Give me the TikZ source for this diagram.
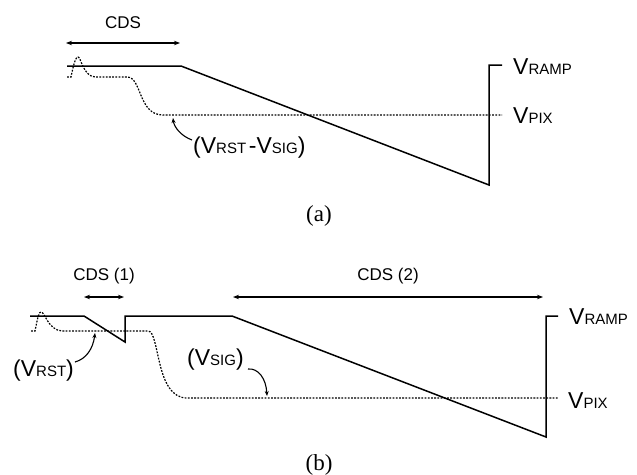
\documentclass[tikz,border=0pt]{standalone}
\usepackage{fontspec}
\setmainfont{Liberation Sans}
\newfontfamily\capfont{Liberation Serif}
\usetikzlibrary{arrows.meta}
\newcommand{\bigV}[1]{{\fontsize{23}{23}\selectfont V}{\fontsize{15}{15}\selectfont #1}}
\newcommand{\bigP}[1]{{\fontsize{23}{23}\selectfont #1}}
\begin{document}
\begin{tikzpicture}[x=1pt,y=-1pt,
  wave/.style={line width=1.5pt,line join=miter},
  pix/.style={line width=1.2pt,dash pattern=on 1.8pt off 1.4pt},
  span/.style={line width=1.5pt,{Stealth[length=6pt,width=4.5pt]}-{Stealth[length=6pt,width=4.5pt]}},
  pointer/.style={line width=1.1pt,-{Stealth[length=5pt,width=4pt]}},
  lbl/.style={inner sep=0pt,anchor=base west},
  cds/.style={inner sep=0pt,anchor=base,font=\fontsize{17}{17}\selectfont},
  captext/.style={inner sep=0pt,anchor=base,font=\capfont\fontsize{23}{23}\selectfont}]
\useasboundingbox (0,0) rectangle (637,474);
% ---------------- panel (a) ----------------
\coordinate (aL) at (66,43);
\coordinate (aR) at (180,43);
\draw[span] (aL) -- (aR);
\node[cds] (acds) at (123,28) {CDS};
\draw[wave] (67,66) -- (181,66) -- (489,185) -- (489,65) -- (502,65);
\draw[pix] (67,77) -- (71,77) .. controls (74,62) and (76,57) .. (78,57)
  .. controls (81,57) and (83,76) .. (95,77) -- (127,77)
  .. controls (142,77) and (138,115) .. (163,115) -- (502,115);
\node[lbl] (aramp) at (513,74) {\bigV{RAMP}};
\node[lbl] (apix) at (513,123) {\bigV{PIX}};
\node[lbl] (adiff) at (193,153) {\bigP{(}\bigV{RST} \bigP{-}\bigV{SIG}\bigP{)}};
\coordinate (adiffS) at (192,140);
\coordinate (adiffT) at (173,118);
\draw[pointer] (adiffS) .. controls (181,136) and (174,127) .. (adiffT);
\node[captext] (acap) at (319,221) {(a)};
% ---------------- panel (b) ----------------
\coordinate (b1L) at (84,297);
\coordinate (b1R) at (124,297);
\draw[span] (b1L) -- (b1R);
\node[cds] (bcds1) at (104,280) {CDS (1)};
\coordinate (b2L) at (233,297);
\coordinate (b2R) at (543,297);
\draw[span] (b2L) -- (b2R);
\node[cds] (bcds2) at (388,280) {CDS (2)};
\draw[wave] (30,316) -- (84,316) -- (125,342) -- (125,316) -- (232,316) -- (546,437) -- (546,316) -- (558,316);
\draw[pix] (31,331) -- (35,331) .. controls (38,316) and (39,312) .. (41,312)
  .. controls (45,312) and (48,330) .. (62,331) -- (148,331)
  .. controls (160,331) and (155,398) .. (187,398) -- (558,398);
\begin{scope}
\clip (0,0) rectangle (627,474);
\node[lbl] (bramp) at (569,324) {\bigV{RAMP}};
\end{scope}
\node[lbl] (bpix) at (568,408) {\bigV{PIX}};
\node[lbl] (brst) at (13,376) {\bigP{(}\bigV{RST}\bigP{)}};
\coordinate (brstS) at (75,362);
\coordinate (brstT) at (95,333);
\draw[pointer] (brstS) .. controls (86,359) and (93,349) .. (brstT);
\node[lbl] (bsig) at (187,365) {\bigP{(}\bigV{SIG}\bigP{)}};
\coordinate (bsigS) at (248,369);
\coordinate (bsigT) at (267,396);
\draw[pointer] (bsigS) .. controls (258,368) and (266,378) .. (bsigT);
\node[captext] (bcap) at (319,470) {(b)};
\end{tikzpicture}
\end{document}
